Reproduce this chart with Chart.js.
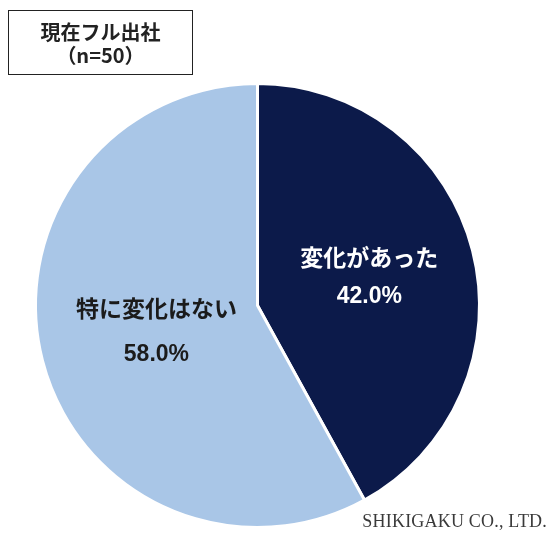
<!DOCTYPE html>
<html>
<head>
<meta charset="utf-8">
<script src="https://cdn.jsdelivr.net/npm/chart.js@4/dist/chart.umd.min.js"></script>
<style>
  html, body { margin: 0; padding: 0; background: #fff; }
  #wrap { position: relative; width: 553px; height: 543px; }
  #title {
    position: absolute; left: 8px; top: 10px; width: 183px; height: 63px;
    border: 1px solid #222; box-sizing: content-box;
    font-family: "Noto Sans CJK JP", sans-serif; font-weight: bold;
    font-size: 20px; line-height: 23px; color: #222; text-align: center;
  }
  #title div:first-child { margin-top: 9px; }
  #credit {
    position: absolute; right: 6px; top: 511px;
    font-family: "Liberation Serif", "DejaVu Serif", serif;
    font-size: 18px; color: #3a3a3a; letter-spacing: 0.2px;
  }
</style>
</head>
<body>
<div id="wrap">
  <canvas id="pie" width="553" height="543"></canvas>
  <div id="title"><div>現在フル出社</div><div>（n=50）</div></div>
  <div id="credit">SHIKIGAKU CO., LTD.</div>
</div>
<script>
// Chart data
const categories = ['変化があった', '特に変化はない'];
const shares = [42.0, 58.0];
const sliceColors = ['#0c1a4a', '#a9c6e7'];
const labelColors = ['#ffffff', '#1b1b1b'];

// Slice labels: name + percentage, drawn at a fraction of the radius
const sliceLabels = {
  id: 'sliceLabels',
  afterDatasetsDraw(chart) {
    const ctx = chart.ctx;
    const arcs = chart.getDatasetMeta(0).data;
    const dist = [0.52, 0.47];
    const gap = [39, 46];
    arcs.forEach((arc, i) => {
      const mid = (arc.startAngle + arc.endAngle) / 2;
      const r = arc.outerRadius * dist[i];
      const x = arc.x + Math.cos(mid) * r;
      const y = arc.y + Math.sin(mid) * r;
      ctx.save();
      ctx.fillStyle = labelColors[i];
      ctx.textAlign = 'center';
      ctx.textBaseline = 'middle';
      ctx.font = 'bold 23px "Noto Sans CJK JP", sans-serif';
      ctx.fillText(categories[i], x, y - gap[i] / 2);
      ctx.font = 'bold 23px "Liberation Sans", Arial, sans-serif';
      ctx.fillText(shares[i].toFixed(1) + '%', x, y + gap[i] / 2);
      ctx.restore();
    });
  }
};

new Chart(document.getElementById('pie').getContext('2d'), {
  type: 'pie',
  data: {
    labels: categories,
    datasets: [{
      data: shares,
      backgroundColor: sliceColors,
      borderColor: '#ffffff',
      borderWidth: 3,
      hoverOffset: 0
    }]
  },
  options: {
    responsive: false,
    animation: false,
    events: [],
    layout: {
      padding: { top: 82, bottom: 14, left: 34, right: 72 }
    },
    plugins: {
      legend: { display: false },
      tooltip: { enabled: false }
    }
  },
  plugins: [sliceLabels]
});
</script>
</body>
</html>
